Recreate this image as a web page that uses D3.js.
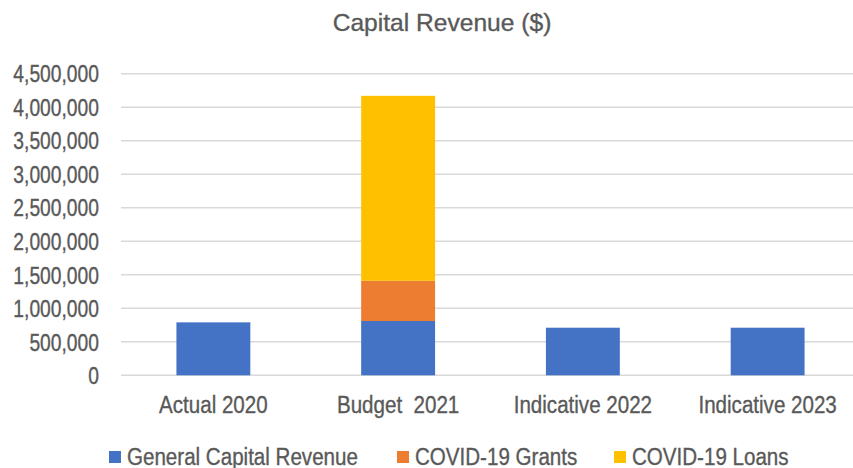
<!DOCTYPE html>
<html>
<head>
<meta charset="utf-8">
<script src="https://cdn.jsdelivr.net/npm/d3@7"></script>
<style>
  html, body { margin: 0; padding: 0; background: #fff; overflow: hidden; }
  text { font-family: 'Liberation Sans', Arial, sans-serif; fill: #595959; white-space: pre; }
  text.narrow { stroke: #595959; stroke-width: 0.35px; }
</style>
</head>
<body>
<svg id="chart" width="853" height="468"></svg>
<script>
const categories = ["Actual 2020", "Budget  2021", "Indicative 2022", "Indicative 2023"];
const seriesNames = ["General Capital Revenue", "COVID-19 Grants", "COVID-19 Loans"];
const generalCapitalRevenue = [790000, 810000, 710000, 710000];
const covidGrants = [0, 600000, 0, 0];
const covidLoans = [0, 2760000, 0, 0];
const yTicks = [0, 500000, 1000000, 1500000, 2000000, 2500000, 3000000, 3500000, 4000000, 4500000];
const colors = ["#4472C4", "#ED7D31", "#FFC000"];

const svg = d3.select("#chart");
const margin = { left: 121, right: -7, top: 73.7, bottom: 92.7 };
const W = 853, H = 468;
const narrowY = 0.82, narrowX = 0.875;

const x = d3.scaleBand().domain(categories)
  .range([margin.left, W - margin.right])
  .paddingInner(0.6).paddingOuter(0.3);
const y = d3.scaleLinear().domain([0, 4500000]).range([H - margin.bottom, margin.top]);

// title
svg.append("text")
  .attr("class", "narrow")
  .attr("x", 442).attr("y", 31)
  .attr("text-anchor", "middle")
  .style("font-size", "24.6px")
  .text("Capital Revenue ($)");

// gridlines
svg.append("g").selectAll("line").data(yTicks).join("line")
  .attr("x1", margin.left).attr("x2", W + 10)
  .attr("y1", d => y(d)).attr("y2", d => y(d))
  .attr("stroke", "#D9D9D9").attr("stroke-width", 1.5);

// y axis labels
const yAxis = d3.axisLeft(y).tickValues(yTicks)
  .tickFormat(d3.format(",")).tickSize(0).tickPadding(0);
const gy = svg.append("g").attr("transform", `translate(${margin.left},0)`);
gy.call(yAxis);
gy.select(".domain").remove();
gy.attr("font-family", null).attr("font-size", null);
gy.selectAll(".tick text")
  .attr("class", "narrow")
  .attr("x", 0)
  .attr("dy", "0.35em")
  .attr("transform", `translate(-22,0) scale(${narrowY},1)`)
  .style("font-size", "23.5px")
  .style("fill", "#595959");

// stacked bars
const rows = categories.map((c, i) => ({
  cat: c,
  "General Capital Revenue": generalCapitalRevenue[i],
  "COVID-19 Grants": covidGrants[i],
  "COVID-19 Loans": covidLoans[i]
}));
const stack = d3.stack().keys(seriesNames)(rows);

svg.append("g").selectAll("g").data(stack).join("g")
  .attr("fill", (d, i) => colors[i])
  .selectAll("rect").data(d => d.filter(p => p[1] - p[0] > 0)).join("rect")
  .attr("x", d => x(d.data.cat))
  .attr("width", x.bandwidth())
  .attr("y", d => y(d[1]))
  .attr("height", d => y(d[0]) - y(d[1]));

// x axis labels
const xAxis = d3.axisBottom(x).tickSize(0).tickPadding(0);
const gx = svg.append("g").attr("transform", `translate(0,${y(0)})`);
gx.call(xAxis);
gx.select(".domain").remove();
gx.attr("font-family", null).attr("font-size", null);
gx.selectAll(".tick text")
  .attr("class", "narrow")
  .attr("y", 0).attr("dy", 0)
  .attr("transform", `translate(0,38) scale(${narrowX},1)`)
  .style("font-size", "23.5px")
  .style("fill", "#595959");

// legend
const legendX = [109, 397, 614];
const lg = svg.append("g").selectAll("g").data(seriesNames).join("g")
  .attr("transform", (d, i) => `translate(${legendX[i]},0)`);
lg.append("rect").attr("x", 0).attr("y", 451).attr("width", 12).attr("height", 12)
  .attr("fill", (d, i) => colors[i]);
lg.append("text")
  .attr("class", "narrow")
  .attr("transform", `translate(18,465) scale(${narrowX},1)`)
  .style("font-size", "23.5px")
  .text(d => d);
</script>
</body>
</html>
